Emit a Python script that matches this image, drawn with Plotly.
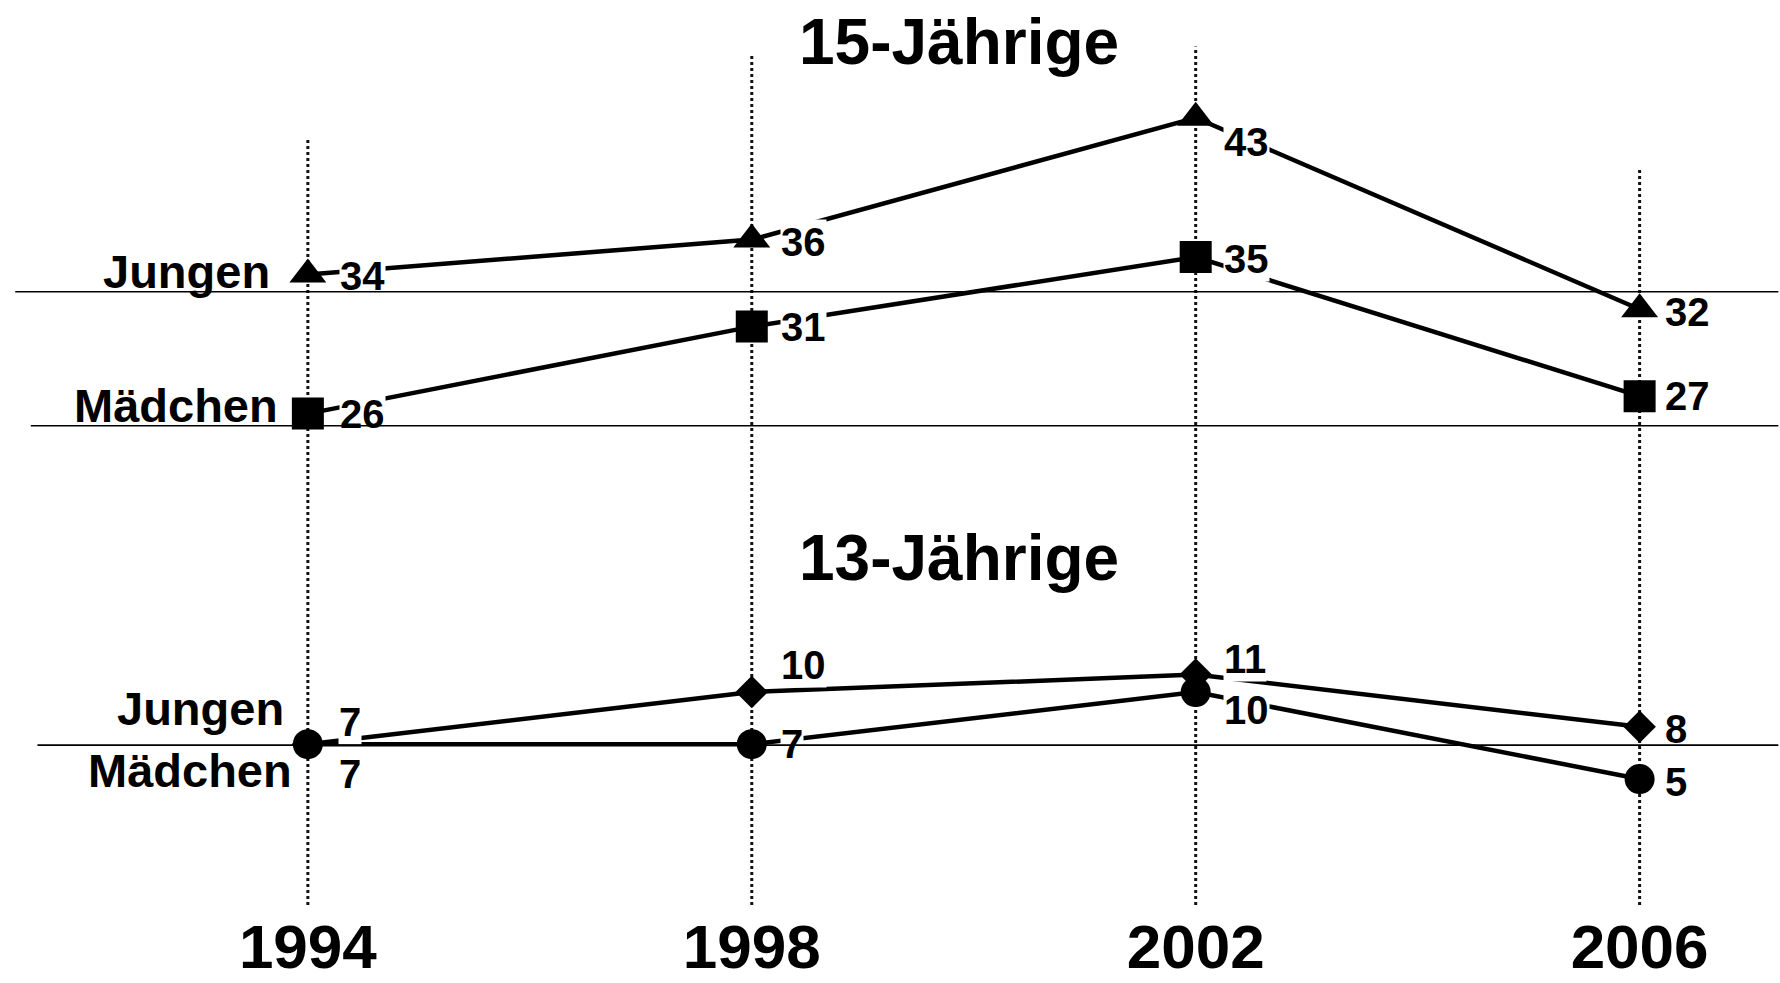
import plotly.graph_objects as go

# ---------------- data ----------------
years = [1994, 1998, 2002, 2006]
year_labels = ["1994", "1998", "2002", "2006"]

jungen_15 = [34, 36, 43, 32]
maedchen_15 = [26, 31, 35, 27]
jungen_13 = [7, 10, 11, 8]
maedchen_13 = [7, 7, 10, 5]

group_titles = ["15-Jährige", "13-Jährige"]
series_names = ["Jungen", "Mädchen"]

# ---------------- layout / style constants ----------------
W, H = 1780, 983
X_RANGE = [1991.226, 2007.265]
Y_RANGE = [-2.24, 49.77]
FONT = "Arial, Liberation Sans, sans-serif"

# label offsets (pixels) for value labels, per series
lbl_dx = {
    "j15": [31, 28, 27, 24],
    "m15": [31, 28, 27, 24],
    "j13": [30, 28, 27, 24],
    "m13": [30, 28, 27, 24],
}
lbl_dy = {
    "j15": [-2, -2, -24, -3],
    "m15": [0, 0, -2, 0],
    "j13": [22, 27, 16, -2],
    "m13": [-30, 0, -18, -3],
}

series = [
    ("j15", jungen_15, "triangle-up", 32),
    ("m15", maedchen_15, "square", 32),
    ("j13", jungen_13, "diamond", 25),
    ("m13", maedchen_13, "circle", 30),
]

# vertical dotted guide tops (axis units) and horizontal rules
guide_tops = [41.8, 46.6, 47.1, 40.1]
rule_levels = [33.0, 25.3, 6.95]
rule_starts = [1991.35, 1991.49, 1991.55]

fig = go.Figure()

# dotted vertical guides
for yr, top in zip(years, guide_tops):
    fig.add_shape(type="line", xref="x", yref="y", x0=yr, x1=yr, y0=Y_RANGE[0], y1=top,
                  line=dict(color="#111111", width=3, dash="dot"), layer="below")

# series lines + markers
for key, vals, sym, size in series:
    fig.add_trace(go.Scatter(
        x=years, y=vals, mode="lines+markers",
        line=dict(color="black", width=4.5),
        marker=dict(symbol=sym, size=size, color="black", line=dict(width=0)),
        showlegend=False, hoverinfo="skip",
    ))

annotations = []
# value labels
for key, vals, sym, size in series:
    for i, (yr, v) in enumerate(zip(years, vals)):
        annotations.append(dict(
            x=yr, y=v, xref="x", yref="y", text=str(v), showarrow=False,
            xanchor="left", yanchor="middle", xshift=lbl_dx[key][i], yshift=lbl_dy[key][i],
            font=dict(family=FONT, size=40, color="black", weight="bold"),
            bgcolor="white", borderpad=0,
        ))

# series name labels next to first point
name_specs = [
    (series_names[0], jungen_15[0], -36, 3),
    (series_names[1], maedchen_15[0], -28, 8),
    (series_names[0], jungen_13[0], -22, 36),
    (series_names[1], maedchen_13[0], -14, -26),
]
for txt, v, dx, dy in name_specs:
    annotations.append(dict(
        x=years[0], y=v, xref="x", yref="y", text=txt, showarrow=False,
        xanchor="right", yanchor="middle", xshift=dx, yshift=dy,
        font=dict(family=FONT, size=47, color="black", weight="bold"),
    ))

# group titles
for t, ty in zip(group_titles, [47.36, 17.7]):
    annotations.append(dict(
        x=0.5388, y=ty, xref="paper", yref="y", text=t, showarrow=False,
        xanchor="center", yanchor="middle",
        font=dict(family=FONT, size=64, color="black", weight="bold"),
    ))

# horizontal rules drawn as arrow-less annotation lines (on top of label backgrounds)
for lvl, xs in zip(rule_levels, rule_starts):
    annotations.append(dict(
        x=2007.25, y=lvl, xref="x", yref="y", ax=xs, ay=lvl, axref="x", ayref="y",
        text="", showarrow=True, arrowhead=0, arrowwidth=1.6, arrowcolor="black",
        standoff=0, startstandoff=0,
    ))

fig.update_layout(
    width=W, height=H,
    margin=dict(l=0, r=0, t=0, b=78, autoexpand=False),
    paper_bgcolor="white", plot_bgcolor="white",
    annotations=annotations,
    xaxis=dict(range=X_RANGE, showgrid=False, zeroline=False, showline=False,
               automargin=False,
               tickvals=years, ticktext=year_labels, ticks="",
               ticklabelstandoff=0,
               tickfont=dict(family=FONT, size=62, color="black", weight="bold")),
    yaxis=dict(range=Y_RANGE, showgrid=False, zeroline=False, showline=False,
               automargin=False, showticklabels=False, ticks=""),
)

fig.write_html("out.html", config={"displayModeBar": False},
               post_script="document.body.style.margin='0px';document.body.style.overflow='hidden';")
